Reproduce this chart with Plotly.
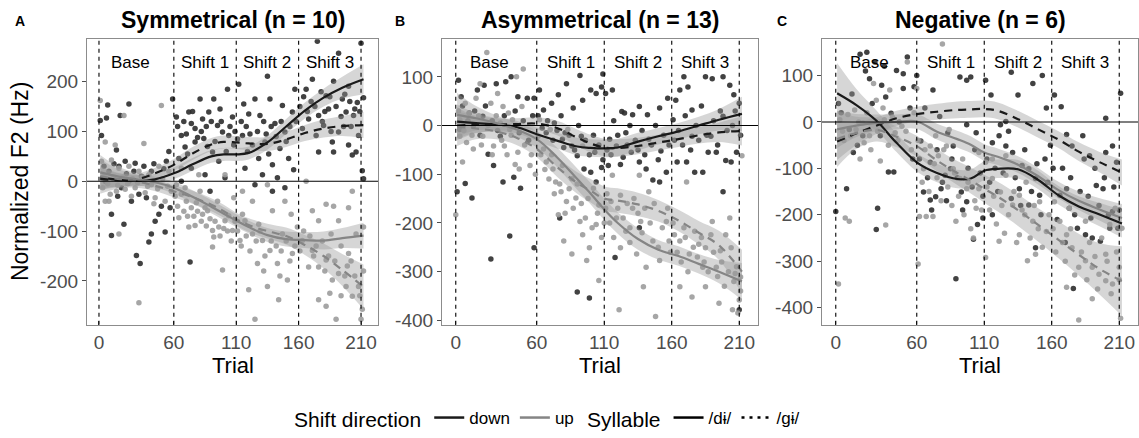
import plotly.graph_objects as go

FONT = "Liberation Sans, Arial, sans-serif"
W, H = 1139, 438

PANEL_TITLES = ["Symmetrical (n = 10)", "Asymmetrical (n = 13)", "Negative (n = 6)"]
PANEL_LETTERS = ["A", "B", "C"]
PHASE_BOUNDS = [0, 60, 110, 160, 210]
PHASE_LABELS = ["Base", "Shift 1", "Shift 2", "Shift 3"]
PHASE_LABEL_X = [25, 85, 135, 185]
X_TICKS = [0, 60, 110, 160, 210]
Y_TICKS_A = [-200, -100, 0, 100, 200]
Y_TICKS_BC = [-400, -300, -200, -100, 0, 100]
Y_RANGE_A = [-288, 285]
Y_RANGE_B = [-409, 177]
Y_RANGE_C = [-437, 178]
X_RANGE_A = [-9.6, 223.6]
X_RANGE_BC = [-10.2, 223.9]

# smooth-curve knots (trial)
GRID = [1, 15, 30, 45, 60, 75, 90, 100, 110, 120, 135, 150, 165, 180, 195, 212]

# Panel A smooths (fit, half-width of CI)
A_DOWN_DI = [8, 3, 1, 4, 16, 34, 50, 54, 54, 57, 78, 110, 142, 168, 188, 205]
A_DOWN_DI_CI = [22, 14, 11, 11, 12, 13, 13, 13, 13, 13, 14, 15, 16, 18, 22, 30]
A_DOWN_GI = [5, 2, 4, 16, 33, 56, 74, 79, 78, 76, 75, 84, 97, 106, 111, 113]
A_DOWN_GI_CI = [22, 14, 11, 11, 12, 13, 13, 13, 13, 13, 14, 15, 16, 18, 20, 26]
A_UP_DI = [18, 10, 4, -2, -13, -31, -51, -65, -79, -92, -108, -116, -118, -119, -114, -109]
A_UP_DI_CI = [35, 20, 13, 11, 12, 13, 13, 13, 13, 13, 14, 15, 16, 18, 20, 26]
A_UP_GI = [10, 5, 0, -9, -20, -32, -47, -60, -76, -88, -100, -110, -128, -150, -178, -212]
A_UP_GI_CI = [35, 20, 13, 11, 12, 13, 13, 13, 13, 14, 15, 17, 20, 25, 32, 45]

# Panel B smooths
B_DOWN_DI = [8, 5, 2, -3, -18, -31, -43, -46, -47, -45, -33, -22, -12, 0, 12, 24]
B_DOWN_DI_CI = [35, 20, 14, 13, 14, 16, 18, 18, 18, 18, 18, 17, 17, 18, 22, 35]
B_DOWN_GI = [0, 2, 2, 3, 4, -5, -25, -37, -45, -46, -42, -35, -28, -20, -14, -11]
B_DOWN_GI_CI = [30, 18, 13, 12, 13, 15, 17, 18, 18, 18, 17, 16, 16, 17, 20, 30]
B_UP_DI = [22, 15, 5, -8, -28, -65, -110, -140, -172, -200, -233, -255, -268, -284, -300, -320]
B_UP_DI_CI = [45, 25, 16, 15, 17, 20, 22, 22, 22, 22, 22, 20, 20, 20, 24, 38]
B_UP_GI = [-2, -6, -12, -25, -48, -85, -118, -134, -150, -154, -162, -175, -195, -220, -246, -300]
B_UP_GI_CI = [40, 22, 16, 15, 17, 20, 22, 24, 25, 25, 24, 22, 22, 24, 30, 45]

# Panel C smooths
C_DOWN_DI = [62, 37, 3, -45, -87, -110, -123, -122, -105, -101, -102, -125, -158, -182, -199, -219]
C_DOWN_DI_CI = [65, 35, 22, 20, 20, 20, 20, 20, 20, 20, 20, 20, 20, 22, 25, 30]
C_DOWN_GI = [-42, -25, -8, 8, 17, 22, 26, 27, 28, 24, 6, -16, -38, -64, -86, -109]
C_DOWN_GI_CI = [40, 25, 18, 16, 16, 17, 18, 18, 18, 18, 18, 18, 18, 20, 22, 28]
C_UP_DI = [-16, -8, -2, 0, 1, -21, -37, -49, -66, -75, -92, -117, -147, -170, -188, -207]
C_UP_DI_CI = [40, 25, 18, 16, 16, 17, 18, 18, 18, 18, 18, 18, 18, 20, 24, 30]
C_UP_GI = [-37, -24, -17, -32, -52, -83, -110, -126, -144, -161, -190, -222, -254, -286, -316, -343]
C_UP_GI_CI = [60, 35, 25, 22, 22, 24, 26, 28, 30, 32, 34, 36, 40, 45, 55, 75]

# Scatter points (trial, normalized F2)
A_DOWN_POINTS = [
    (1, 122), (7, 153), (17, 132), (24, 155), (6, 127), (2, 92), (14, 63), (21, 40), (29, 36), (36, 30),
    (42, 20), (54, 40), (59, 165), (32, -26), (38, -33), (10, -66), (20, -86), (10, -109), (30, -149),
    (33, -165), (42, -106), (53, -102), (50, -50), (57, -53), (26, -40), (48, -66), (40, -122), (5, 0),
    (18, -13), (24, 0),
    (62, 129), (66, 92), (72, 139), (74, 116), (77, 106), (81, 165), (83, 125), (88, 139), (92, 165),
    (95, 112), (97, 145), (103, 185), (107, 129), (69, 69), (77, 79), (84, 86), (91, 59), (99, 99),
    (104, 92), (64, 46), (74, 26), (85, 13), (96, 40), (108, 73), (73, -162), (66, 0), (89, -20), (101, 7),
    (112, 195), (116, 155), (120, 135), (125, 165), (129, 132), (135, 211), (137, 165), (141, 116),
    (147, 152), (149, 99), (155, 139), (157, 185), (115, 92), (123, 73), (128, 46), (133, 79), (139, 33),
    (145, 66), (152, 46), (117, 26), (131, 13), (143, 7), (149, -13), (156, 23), (139, -20), (125, -7),
    (166, 185), (171, 205), (175, 281), (176, 132), (182, 172), (184, 145), (188, 201), (192, 257),
    (195, 165), (198, 139), (200, 191), (204, 132), (207, 158), (210, 277), (212, 168), (163, 106),
    (174, 92), (180, 112), (187, 79), (192, 99), (200, 73), (203, 53), (206, 59), (211, 21), (212, 5),
    (176, 59), (188, 59), (208, 92), (168, 125),
]
A_DOWN_POINTS_MORE = [
    (4, 30), (8, 20), (12, 35), (16, 30), (22, 15), (28, 20), (34, 10), (44, 35), (52, 25), (56, 60),
    (15, -30), (45, -80),
    (63, 110), (68, 120), (70, 95), (75, 140), (79, 88), (82, 100), (86, 110), (90, 120), (93, 80),
    (98, 120), (102, 60), (105, 110), (109, 100), (71, 55), (87, 70),
    (111, 85), (114, 120), (118, 110), (121, 95), (127, 100), (132, 120), (134, 95), (138, 110),
    (142, 90), (146, 120), (150, 80), (153, 110), (158, 120), (119, 60), (136, 55),
    (161, 150), (164, 170), (167, 140), (170, 160), (173, 150), (178, 180), (181, 140), (185, 170),
    (190, 150), (194, 130), (197, 175), (201, 160), (205, 145), (209, 140), (179, 120), (196, 110),
    (202, 110), (186, 100),
]
A_UP_POINTS = [
    (1, 162), (5, 79), (13, 73), (20, 132), (50, 152), (36, 76), (2, 40), (10, 43), (16, 26), (24, 30),
    (32, 20), (40, 13), (48, 30), (56, 20), (3, -13), (9, -26), (14, -20), (21, -16), (29, -13), (37, -23),
    (45, -33), (53, -40), (5, -40), (16, -106), (32, -244), (42, -7), (58, -20),
    (62, -7), (66, -26), (70, -40), (74, -53), (78, -43), (83, -66), (87, -59), (91, -99), (92, -112),
    (96, -92), (101, -79), (107, -99), (64, -73), (72, -92), (77, -89), (85, -53), (95, -40), (104, -69),
    (91, -132), (99, -178), (69, -13), (81, -20), (108, -33), (66, 26), (80, 13), (101, 13),
    (113, -119), (117, -79), (123, -106), (127, -165), (131, -119), (135, -211), (137, -139), (143, -165),
    (147, -106), (151, -198), (155, -145), (159, -92), (120, -218), (125, -277), (115, -20), (123, -40),
    (139, -59), (149, -40), (135, -7), (144, -238), (115, -66), (128, -86), (154, -66),
    (166, 0), (171, -59), (176, -79), (182, -46), (186, -106), (188, -50), (192, -79), (200, -53),
    (203, -20), (163, -119), (171, -139), (176, -172), (182, -158), (187, -198), (192, -185), (198, -211),
    (203, -231), (208, -211), (211, -257), (176, -238), (190, -277), (206, -106), (212, -92), (168, -172),
    (182, -251), (200, -145), (210, -277),
]
A_UP_POINTS_MORE = [
    (4, 10), (7, -5), (11, 5), (15, -8), (19, 8), (23, -5), (27, 5), (31, -3), (35, 8), (39, -10),
    (43, 0), (47, -15), (51, 5), (55, -10), (8, -40), (26, -30), (44, -45),
    (61, -30), (63, -50), (68, -60), (71, -70), (76, -70), (79, -60), (82, -80), (86, -90), (89, -75),
    (93, -80), (97, -110), (100, -95), (103, -100), (106, -120), (109, -80),
    (111, -100), (114, -130), (118, -110), (121, -140), (126, -120), (129, -100), (133, -150),
    (138, -120), (142, -130), (146, -140), (150, -120), (153, -160), (157, -130), (132, -180), (145, -190),
    (161, -140), (164, -100), (169, -110), (172, -150), (174, -130), (179, -120), (181, -180), (184, -150),
    (189, -160), (194, -130), (197, -190), (199, -170), (202, -160), (205, -190), (209, -230), (212, -180),
    (194, -230), (185, -225),
]
B_DOWN_POINTS = [
    (2, 93), (4, 59), (1, -136), (7, -119), (12, -149), (16, 73), (21, 83), (30, 86), (37, 90), (41, 100),
    (46, 59), (53, 56), (58, 56), (26, -274), (40, -227), (35, -116), (43, -106), (48, -129), (24, -59),
    (28, -82), (13, -1), (20, 19), (33, -22), (47, -15), (58, -251), (3, -8), (10, 26),
    (62, 73), (65, 32), (71, 46), (76, 63), (82, 86), (87, 36), (92, 103), (94, 52), (100, 73), (104, 66),
    (109, 106), (108, 79), (67, -15), (73, 5), (79, -28), (86, -42), (90, -62), (95, -89), (100, -96),
    (104, -116), (108, -86), (77, -190), (90, -342), (99, -354), (81, -15), (93, -22), (103, -55),
    (111, 66), (116, 73), (123, 29), (125, 26), (131, 22), (136, 39), (142, 22), (151, 36), (157, 56),
    (114, -28), (119, -42), (124, -65), (130, -55), (136, -75), (141, -89), (146, -112), (151, -116),
    (156, -96), (118, -271), (136, -210), (113, -82), (126, -15), (143, -28), (152, -52),
    (163, 52), (166, 73), (169, 100), (172, 79), (175, 32), (185, 100), (190, 96), (198, 100), (203, 83),
    (206, 63), (210, 46), (164, -75), (171, -75), (177, -96), (183, -96), (187, -55), (193, -55),
    (198, -136), (200, -72), (208, -55), (204, -75), (175, -22), (189, -22), (161, 12), (198, 19), (210, -378),
]
B_DOWN_POINTS_MORE = [
    (5, 40), (9, 10), (14, 30), (18, -20), (22, 40), (27, 10), (31, -10), (36, 20), (44, 30), (50, 10),
    (54, -30), (57, 20),
    (61, 20), (64, -5), (68, 10), (72, -30), (75, -10), (78, 20), (80, -45), (84, -20), (88, -50), (91, 0),
    (96, -30), (99, -60), (102, -20), (106, -40), (109, -70),
    (112, -50), (115, -60), (117, 10), (120, -20), (122, -80), (127, -40), (129, 0), (133, -30), (135, -50),
    (138, -10), (140, -60), (145, -40), (148, 0), (150, -70), (154, -20), (158, -40),
    (162, -30), (165, -10), (168, -40), (170, 20), (174, -50), (178, 0), (180, -30), (182, 40), (186, -20),
    (191, 10), (194, -40), (196, 30), (201, -10), (205, 0), (207, 30), (211, -20),
]
B_UP_POINTS = [
    (0, -183), (3, 12), (7, 46), (10, 26), (15, 56), (18, 86), (23, 150), (26, 46), (31, 66), (35, 39),
    (39, 26), (49, 39), (42, 12), (3, -22), (8, -35), (13, -48), (20, -22), (28, -42), (36, -42), (46, -55),
    (55, -82), (47, -89), (33, 5), (40, -8), (5, -75), (50, 116), (45, 100),
    (61, -22), (65, -48), (67, -75), (72, -89), (74, -116), (78, -136), (82, -156), (86, -109), (89, -149),
    (92, -197), (94, -224), (99, -251), (104, -203), (106, -163), (76, -183), (80, -237), (86, -264),
    (97, -277), (106, -318), (62, 12), (70, -8), (83, -8), (94, -42), (79, -82), (102, -129),
    (111, -170), (115, -156), (119, -190), (122, -143), (126, -217), (131, -170), (134, -264), (137, -197),
    (141, -291), (146, -237), (151, -277), (156, -197), (122, -251), (129, -210), (139, -331), (148, -392),
    (121, -378), (116, -102), (136, -102), (143, -136), (158, -237),
    (162, -224), (166, -237), (169, -210), (173, -264), (177, -217), (180, -244), (183, -291), (185, -251),
    (189, -224), (193, -291), (196, -257), (200, -224), (204, -251), (207, -304), (211, -311), (166, -331),
    (175, -352), (185, -331), (195, -365), (205, -378), (210, -358), (203, -190), (171, -116), (190, -197),
    (212, -62), (209, -385),
]
B_UP_POINTS_MORE = [
    (2, 30), (6, -10), (9, 5), (12, -20), (17, 20), (19, -40), (24, 0), (27, -60), (30, 20), (34, -30),
    (38, -60), (41, -20), (44, -80), (51, -40), (56, -60), (59, -100),
    (63, -60), (66, -90), (69, -110), (71, -60), (73, -140), (77, -120), (81, -180), (84, -130), (87, -170),
    (90, -120), (93, -160), (96, -190), (98, -150), (101, -210), (105, -180), (108, -230), (110, -200),
    (112, -140), (114, -200), (117, -230), (120, -170), (124, -190), (127, -160), (129, -240), (132, -150),
    (135, -180), (138, -220), (140, -170), (144, -200), (147, -160), (150, -250), (153, -210), (157, -170),
    (159, -260),
    (161, -200), (164, -260), (167, -280), (170, -230), (172, -300), (176, -250), (179, -270), (182, -230),
    (184, -280), (187, -300), (191, -260), (194, -310), (197, -280), (199, -330), (202, -300), (206, -320),
    (208, -290), (211, -340),
]
C_DOWN_POINTS = [
    (0, -193), (2, 40), (8, -144), (13, -66), (18, 146), (23, 150), (25, 93), (29, 129), (34, 79), (37, 54),
    (41, 19), (45, 111), (50, 72), (55, 30), (58, 76), (31, -186), (30, -232), (39, -108), (43, -108),
    (20, -30), (10, -16), (50, 104),
    (60, 100), (72, 69), (77, 12), (83, -23), (87, -52), (92, 97), (97, 90), (100, 97), (104, -23),
    (65, -151), (70, -168), (74, -161), (81, -115), (85, -101), (93, -151), (97, -172), (102, -253),
    (105, -221), (109, -207), (89, -338), (70, -87), (78, -144), (97, -6), (63, -41),
    (111, 90), (115, 58), (122, -6), (126, 1), (130, 107), (135, 58), (146, 83), (153, 100), (156, 30),
    (116, -45), (121, -30), (126, -52), (131, -66), (138, -94), (143, -101), (148, -122), (151, -158),
    (116, -200), (130, -165), (143, -179), (148, -271), (136, -144), (155, -80),
    (162, 58), (167, 33), (171, -27), (175, -52), (183, -30), (188, -73), (193, -137), (198, -144),
    (200, -66), (205, -52), (208, -87), (211, 62), (166, -158), (173, -186), (179, -229), (185, -243),
    (189, -207), (196, -257), (203, -229), (205, -193), (209, -229), (200, 8), (171, -144), (176, -359),
]
C_DOWN_POINTS_MORE = [
    (4, 20), (12, 60), (16, -50), (22, 110), (27, 40), (33, -30), (36, 120), (47, 0), (53, 140), (57, -80),
    (62, -80), (66, 30), (68, -120), (71, -190), (75, -60), (79, -130), (82, -170), (86, -80), (90, -120),
    (94, -190), (98, -100), (101, -140), (103, -60), (107, -110), (109, -160),
    (112, -80), (114, -130), (118, -100), (120, -150), (124, -110), (128, -20), (133, -120), (137, -180),
    (140, -60), (145, -150), (149, -90), (152, -200), (157, -130), (159, -50),
    (161, -100), (164, -210), (168, -100), (170, -260), (174, -120), (177, -200), (181, -150), (184, -80),
    (187, -160), (190, -250), (192, -100), (195, -180), (199, -120), (202, -200), (206, -140), (210, -190),
]
C_UP_POINTS = [
    (2, -349), (7, -207), (10, -214), (3, 5), (5, -20), (9, 16), (15, -16), (20, -2), (25, -30), (30, 47),
    (33, -84), (37, -222), (40, 69), (44, -23), (49, -9), (53, 129), (60, 72), (14, 26), (21, -45),
    (28, 83), (36, 5), (18, -80),
    (61, -306), (62, -204), (67, -204), (72, -204), (70, -52), (76, -73), (82, -52), (87, -101), (92, -122),
    (97, -144), (102, -250), (104, -186), (106, -144), (79, 168), (74, -30), (65, -101), (89, -214),
    (94, -80), (106, -66), (84, -16),
    (111, -87), (116, -122), (122, -151), (126, -115), (131, -179), (136, -158), (140, -200), (146, -214),
    (151, -172), (156, -236), (111, -292), (121, -257), (136, -243), (142, -299), (148, -285), (126, -73),
    (141, -130), (116, -80),
    (162, -172), (166, -214), (171, -243), (175, -271), (180, -313), (185, -299), (190, -313), (195, -328),
    (200, -285), (205, -349), (210, -313), (171, -356), (180, -427), (190, -381), (200, -342), (207, -186),
    (212, -229), (173, -186), (185, -214), (203, -221), (211, -423),
]
C_UP_POINTS_MORE = [
    (6, -40), (11, -30), (17, 0), (23, 20), (26, -60), (31, -20), (35, 30), (39, -50), (42, 10), (46, -40),
    (52, -20), (56, -60), (58, 20),
    (61, -40), (64, -130), (66, -60), (69, -150), (73, -90), (75, -120), (78, -170), (80, -60), (83, -140),
    (86, -180), (88, -110), (91, -160), (95, -200), (98, -130), (100, -230), (103, -170), (108, -190),
    (112, -140), (114, -190), (117, -160), (119, -220), (123, -180), (125, -240), (128, -200), (132, -150),
    (134, -260), (138, -190), (144, -250), (147, -180), (150, -230), (153, -270), (158, -200),
    (161, -230), (163, -280), (168, -260), (170, -300), (174, -230), (177, -330), (182, -280), (186, -340),
    (188, -260), (192, -290), (194, -360), (197, -250), (201, -300), (204, -370), (208, -280), (210, -340),
]

DIRECTIONS = ["down", "up"]
SYLLABLES = ["/dɨ/", "/gɨ/"]
LINE_COL = {"down": "#1a1a1a", "up": "#858585"}
PT_COL = {"down": "#2e2e2e", "up": "#9c9c9c"}
DASH = {"/dɨ/": "solid", "/gɨ/": "8px,6px"}

panels = [
    dict(down=A_DOWN_POINTS + A_DOWN_POINTS_MORE, up=A_UP_POINTS + A_UP_POINTS_MORE,
         curves=[("down", "/dɨ/", A_DOWN_DI, A_DOWN_DI_CI), ("down", "/gɨ/", A_DOWN_GI, A_DOWN_GI_CI),
                 ("up", "/dɨ/", A_UP_DI, A_UP_DI_CI), ("up", "/gɨ/", A_UP_GI, A_UP_GI_CI)],
         yr=Y_RANGE_A, yt=Y_TICKS_A, xr=X_RANGE_A, dom=(87, 378), letter_x=13),
    dict(down=B_DOWN_POINTS + B_DOWN_POINTS_MORE, up=B_UP_POINTS + B_UP_POINTS_MORE,
         curves=[("down", "/dɨ/", B_DOWN_DI, B_DOWN_DI_CI), ("down", "/gɨ/", B_DOWN_GI, B_DOWN_GI_CI),
                 ("up", "/dɨ/", B_UP_DI, B_UP_DI_CI), ("up", "/gɨ/", B_UP_GI, B_UP_GI_CI)],
         yr=Y_RANGE_B, yt=Y_TICKS_BC, xr=X_RANGE_BC, dom=(442, 758), letter_x=393),
    dict(down=C_DOWN_POINTS + C_DOWN_POINTS_MORE, up=C_UP_POINTS + C_UP_POINTS_MORE,
         curves=[("down", "/dɨ/", C_DOWN_DI, C_DOWN_DI_CI), ("down", "/gɨ/", C_DOWN_GI, C_DOWN_GI_CI),
                 ("up", "/dɨ/", C_UP_DI, C_UP_DI_CI), ("up", "/gɨ/", C_UP_GI, C_UP_GI_CI)],
         yr=Y_RANGE_C, yt=Y_TICKS_BC, xr=X_RANGE_BC, dom=(822, 1138), letter_x=775),
]

PLOT_TOP, PLOT_BOTTOM = 40, 330
ydom = [(H - PLOT_BOTTOM) / H, (H - PLOT_TOP) / H]

fig = go.Figure()
layout = dict(width=W, height=H, margin=dict(l=0, r=0, t=0, b=0),
              paper_bgcolor="white", plot_bgcolor="white",
              font=dict(family=FONT, color="black"), showlegend=True)
annotations = []
shapes = []

for i, p in enumerate(panels):
    n = "" if i == 0 else str(i + 1)
    xa, ya = "x" + n, "y" + n
    for d in DIRECTIONS:
        pts = p[d]
        fig.add_trace(go.Scatter(x=[t for t, v in pts], y=[v for t, v in pts], mode="markers",
                                 marker=dict(size=5.5, color=PT_COL[d], opacity=0.9),
                                 xaxis=xa, yaxis=ya, showlegend=False, hoverinfo="skip"))
    for d, s, fit, ci in p["curves"]:
        lo = [f - c for f, c in zip(fit, ci)]
        hi = [f + c for f, c in zip(fit, ci)]
        fig.add_trace(go.Scatter(x=GRID, y=lo, mode="lines", line=dict(width=0, shape="spline"),
                                 xaxis=xa, yaxis=ya, showlegend=False, hoverinfo="skip"))
        fig.add_trace(go.Scatter(x=GRID, y=hi, mode="lines", line=dict(width=0, shape="spline"),
                                 fill="tonexty", fillcolor="rgba(153,153,153,0.4)",
                                 xaxis=xa, yaxis=ya, showlegend=False, hoverinfo="skip"))
    for d, s, fit, ci in p["curves"]:
        fig.add_trace(go.Scatter(x=GRID, y=fit, mode="lines",
                                 line=dict(width=2.2, color=LINE_COL[d], dash=DASH[s], shape="spline"),
                                 xaxis=xa, yaxis=ya, showlegend=False, hoverinfo="skip"))

    x0, x1 = p["dom"]
    axis_common = dict(showgrid=False, zeroline=False, showline=True, mirror=True,
                       linecolor="#8c8c8c", linewidth=1.2, ticklen=4,
                       tickcolor="#4d4d4d", tickfont=dict(size=19, color="#4d4d4d"))
    layout["xaxis" + n] = dict(domain=[x0 / W, x1 / W], range=p["xr"], anchor=ya, ticks="inside",
                               tickvals=X_TICKS, ticktext=[str(v) for v in X_TICKS], **axis_common)
    layout["yaxis" + n] = dict(domain=ydom, range=p["yr"], anchor=xa, ticks="outside",
                               tickvals=p["yt"], ticktext=[str(v) for v in p["yt"]], **axis_common)
    for b in PHASE_BOUNDS:
        shapes.append(dict(type="line", xref=xa, yref=ya + " domain", x0=b, x1=b, y0=0, y1=1,
                           line=dict(color="black", width=1.1, dash="4px,4px"), layer="above"))
    shapes.append(dict(type="line", xref=xa + " domain", yref=ya, x0=0, x1=1, y0=0, y1=0,
                       line=dict(color="black", width=1.1), layer="above"))
    for lab, lx in zip(PHASE_LABELS, PHASE_LABEL_X):
        annotations.append(dict(text=lab, x=lx, xref=xa, y=0.92, yref=ya + " domain",
                                showarrow=False, font=dict(size=17, color="black"),
                                xanchor="center", yanchor="middle"))
    cx = (x0 + x1) / 2 / W
    annotations.append(dict(text="<b>" + PANEL_TITLES[i] + "</b>", x=cx, xref="paper",
                            y=(H - 20) / H, yref="paper", showarrow=False,
                            font=dict(size=23, color="black"), xanchor="center", yanchor="middle"))
    annotations.append(dict(text="<b>" + PANEL_LETTERS[i] + "</b>", x=p["letter_x"] / W, xref="paper",
                            y=(H - 21) / H, yref="paper", showarrow=False,
                            font=dict(size=14, color="black"), xanchor="left", yanchor="middle"))
    annotations.append(dict(text="Trial", x=cx, xref="paper", y=(H - 371) / H, yref="paper",
                            showarrow=False, font=dict(size=22, color="black"),
                            xanchor="center", yanchor="middle"))

annotations.append(dict(text="Normalized F2 (Hz)", x=20 / W, xref="paper",
                        y=(ydom[0] + ydom[1]) / 2, yref="paper", textangle=-90, showarrow=False,
                        font=dict(size=23, color="black"), xanchor="center", yanchor="middle"))

for d in DIRECTIONS:
    fig.add_trace(go.Scatter(x=[None], y=[None], mode="lines", name=d,
                             line=dict(color=LINE_COL[d], width=2.5), legend="legend"))
for s in SYLLABLES:
    fig.add_trace(go.Scatter(x=[None], y=[None], mode="lines", name=s,
                             line=dict(color="black", width=2.5,
                                       dash="solid" if s == "/dɨ/" else "3px,5px"),
                             legend="legend2"))

layout["legend"] = dict(orientation="h", x=292 / W, y=(H - 426) / H, xanchor="left", yanchor="middle",
                        traceorder="normal",
                        title=dict(text="Shift direction", font=dict(size=21), side="left"),
                        font=dict(size=17), itemwidth=30, bgcolor="rgba(0,0,0,0)")
layout["legend2"] = dict(orientation="h", x=585 / W, y=(H - 426) / H, xanchor="left", yanchor="middle",
                         traceorder="normal",
                         title=dict(text="Syllable", font=dict(size=21), side="left"),
                         font=dict(size=17), itemwidth=30, bgcolor="rgba(0,0,0,0)")
layout["annotations"] = annotations
layout["shapes"] = shapes
fig.update_layout(**layout)
fig.write_html("out.html")
